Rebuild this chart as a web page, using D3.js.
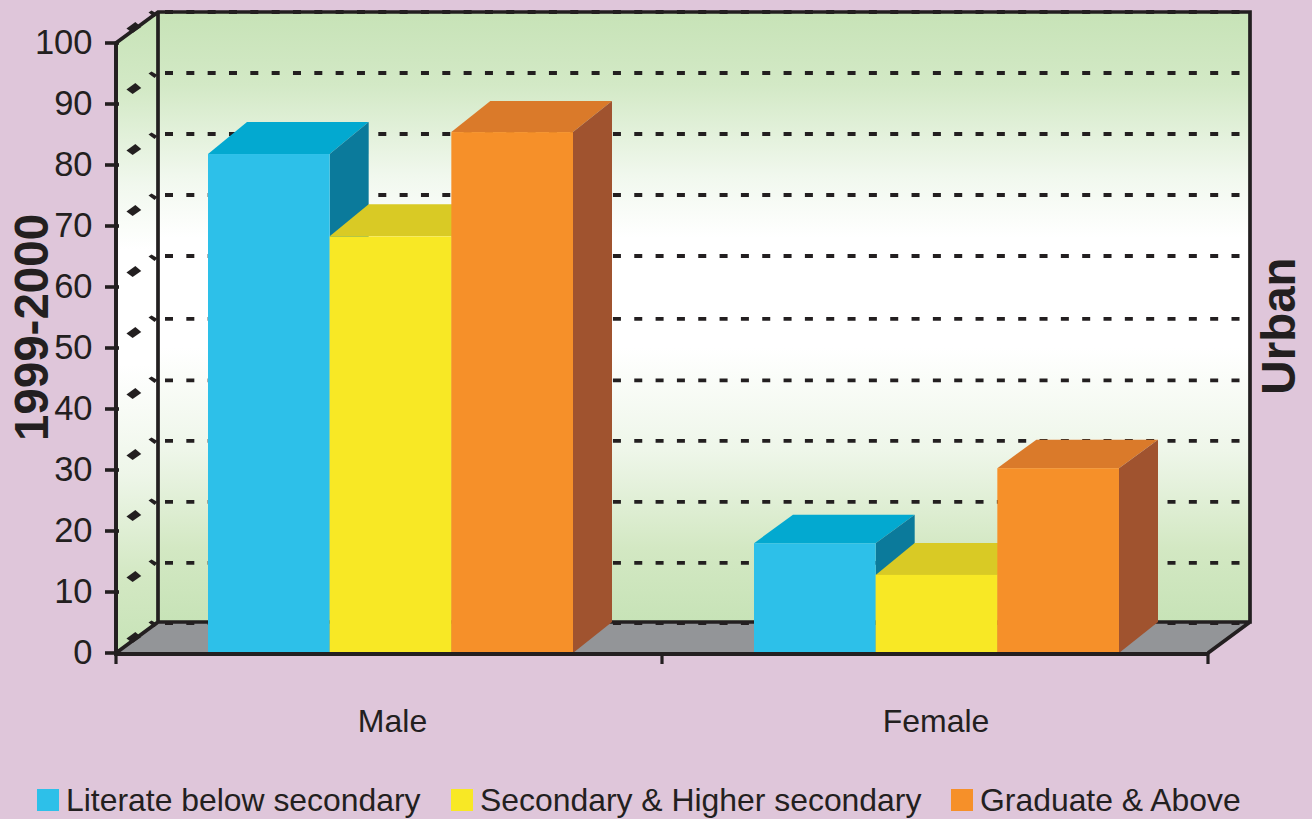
<!DOCTYPE html>
<html><head><meta charset="utf-8">
<script src="https://d3js.org/d3.v7.min.js"></script>
<style>html,body{margin:0;padding:0;background:#dfc6da;overflow:hidden}svg{display:block}text{font-family:"Liberation Sans",Arial,sans-serif;fill:#231f20}</style>
</head><body><svg id="c" width="1312" height="819"></svg>
<script>
const categories = ["Male","Female"];
const seriesNames = ["Literate below secondary","Secondary & Higher secondary","Graduate & Above"];
const seriesFront = ["#2dc0e9","#f8e825","#f69029"];
const seriesTop = ["#03a9d0","#d9ca25","#da7a2a"];
const seriesSide = ["#0b7a9b","#d9ca25","#a0532f"];
const maleValues = [81.8,68.3,85.4];
const femaleValues = [18,12.8,30.3];
const tickValues = [0,10,20,30,40,50,60,70,80,90,100];
const gridValues = [-0.2,9.7,19.7,29.7,39.6,49.7,60,70,80,90,100];

const svg = d3.select("#c");
const y = d3.scaleLinear().domain([0,100]).range([653,43]);
const x = d3.scaleBand().domain(categories).range([116,1208]);
const inner = d3.scaleBand().domain(seriesNames).range([92,457]);
const DX = 42, DY = -31, BDX = 39, BDY = -31;
const topDepth = {Male:[32,32,31],Female:[28.4,32,28.4]};
const INK = "#231f20";
const x0 = x.range()[0], x1 = x.range()[1];
const y0 = y(0), y100 = y(100);

const defs = svg.append("defs");
const g = defs.append("linearGradient").attr("id","wall").attr("x1",0).attr("x2",0).attr("y1",0).attr("y2",1);
[[0,"#c7e3b7"],[0.12,"#d3e9c6"],[0.27,"#f1f8ee"],[0.37,"#ffffff"],[0.55,"#ffffff"],[0.72,"#eef6e9"],[0.88,"#d3e8c3"],[1,"#c7e3b7"]]
  .forEach(s=>g.append("stop").attr("offset",s[0]).attr("stop-color",s[1]));

// walls & floor
svg.append("rect").attr("x",x0+DX).attr("y",y100+DY).attr("width",x1-x0).attr("height",y0-y100).attr("fill","url(#wall)");
svg.append("path").attr("d",`M${x0},${y100}L${x0+DX},${y100+DY}L${x0+DX},${y0+DY}L${x0},${y0}Z`).attr("fill","url(#wall)");
svg.append("path").attr("d",`M${x0},${y0}L${x0+DX},${y0+DY}L${x1+DX},${y0+DY}L${x1},${y0}Z`).attr("fill","#939598");

// dashed gridlines on back wall
svg.append("g").selectAll("line").data(gridValues).join("line")
  .attr("x1",x0+DX+7).attr("x2",x1+DX-4)
  .attr("y1",d=>y(d)+DY).attr("y2",d=>y(d)+DY)
  .attr("stroke",INK).attr("stroke-width",3.8).attr("stroke-dasharray","8 13.33");

// side-wall tick marks
const side = svg.append("g");
side.selectAll(".m").data(tickValues).join("path").attr("class","m")
  .attr("transform",d=>`translate(${x0+DX*0.42},${y(d)+DY*0.5})`)
  .attr("d","M-7.2,1L1.7,-5.4L7.6,-0.6L-1,5.4Z").attr("fill",INK);
side.selectAll(".b").data(tickValues).join("path").attr("class","b")
  .attr("transform",d=>`translate(${x0+DX-5},${y(d)+DY+2})`)
  .attr("d","M-4.5,-1.5L-1.5,-3.5L4.5,0L1.5,3Z").attr("fill",INK);

// frame
svg.append("path").attr("fill","none").attr("stroke",INK).attr("stroke-width",3.7).attr("stroke-linejoin","miter")
  .attr("d",`M${x0},${y0}L${x0},${y100}L${x0+DX},${y100+DY}L${x1+DX},${y100+DY}L${x1+DX},${y0+DY}L${x0+DX},${y0+DY}L${x0+DX},${y100+DY}M${x0},${y0}L${x0+DX},${y0+DY}M${x1+DX},${y0+DY}L${x1},${y0}`);

// bars
[[categories[0],maleValues],[categories[1],femaleValues]].forEach(([c,vals])=>{
  const gg = svg.append("g");
  const items = vals.map((v,i)=>({v,i,n:seriesNames[i],l:x(c)+inner(seriesNames[i]),w:inner.bandwidth(),t:y(v),d:topDepth[c][i]}));
  items.forEach(d=>{
    const r=d.l+d.w;
    gg.append("path").attr("fill",seriesTop[d.i]).attr("d",`M${d.l},${d.t}L${d.l+BDX},${d.t-d.d}L${r+BDX},${d.t-d.d}L${r},${d.t}Z`);
    gg.append("path").attr("fill",seriesSide[d.i]).attr("d",`M${r},${d.t}L${r+BDX},${d.t-d.d}L${r+BDX},${y0+BDY}L${r},${y0}Z`);
  });
  items.forEach(d=>{
    gg.append("rect").attr("x",d.l).attr("y",d.t).attr("width",d.w).attr("height",y0-d.t).attr("fill",seriesFront[d.i]);
  });
});

// front axis on top
svg.append("path").attr("fill","none").attr("stroke",INK).attr("stroke-width",3.8)
  .attr("d",`M${x0},${y100}L${x0},${y0+1}L${x1},${y0+1}`);
svg.append("g").selectAll("line").data(tickValues).join("line")
  .attr("x1",x0-11).attr("x2",x0+3).attr("y1",d=>y(d)).attr("y2",d=>y(d))
  .attr("stroke",INK).attr("stroke-width",3.6);
svg.append("g").selectAll("line").data([x0,x0+x.step(),x1]).join("line")
  .attr("x1",d=>d).attr("x2",d=>d).attr("y1",y0).attr("y2",y0+11)
  .attr("stroke",INK).attr("stroke-width",3.2);

// tick labels
svg.append("g").selectAll("text").data(tickValues).join("text")
  .attr("x",92.5).attr("y",d=>y(d)+10.5).attr("text-anchor","end").attr("font-size",34.5).text(d=>d);
svg.append("g").selectAll("text").data(categories).join("text")
  .attr("x",d=>x(d)+x.bandwidth()/2+(d==="Male"?3.5:1)).attr("y",732).attr("text-anchor","middle").attr("font-size",32).text(d=>d);

// axis titles
svg.append("text").attr("transform","translate(48,327.5) rotate(-90)").attr("text-anchor","middle").attr("font-size",47.5).attr("font-weight","bold").text("1999-2000");
svg.append("text").attr("transform","translate(1295,326) rotate(-90)").attr("text-anchor","middle").attr("font-size",47.5).attr("font-weight","bold").text("Urban");

// legend
const legendX = [37,451,951];
const lg = svg.append("g");
seriesNames.forEach((n,i)=>{
  lg.append("rect").attr("x",legendX[i]).attr("y",789).attr("width",22).attr("height",22).attr("fill",seriesFront[i]);
  lg.append("text").attr("x",legendX[i]+29).attr("y",811).attr("font-size",31.9).text(n);
});
</script></body></html>
